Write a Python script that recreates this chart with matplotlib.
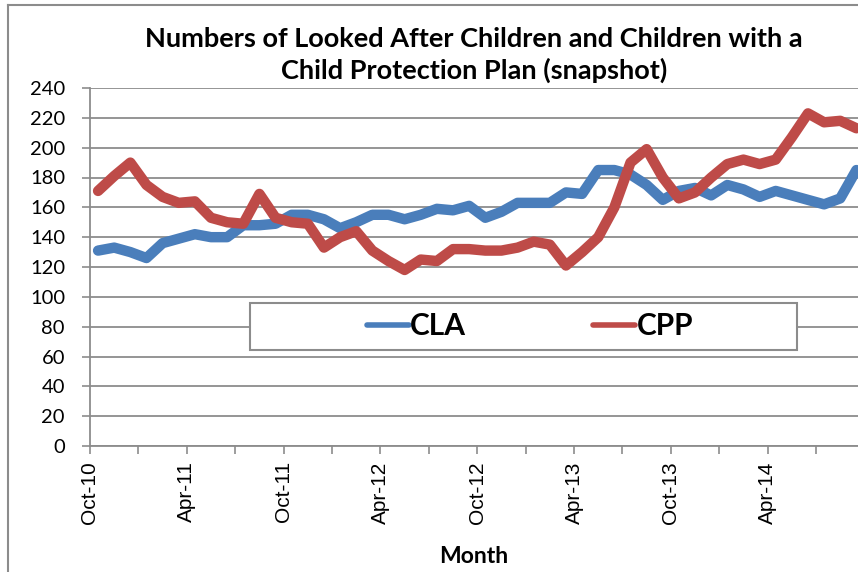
import numpy as np
import pandas as pd
import matplotlib
matplotlib.use('Agg')
import matplotlib.pyplot as plt
from matplotlib.lines import Line2D
from matplotlib.patches import Rectangle

# Meses (oct-2010 a sep-2014)
months = pd.date_range('2010-10-01', periods=48, freq='MS').strftime('%b-%y').tolist()

# Children Looked After
cla = [131, 133, 130, 126, 136, 139, 142, 140, 140, 148, 148, 149,
       155, 155, 152, 146, 150, 155, 155, 152, 155, 159, 158, 161,
       153, 157, 163, 163, 163, 170, 169, 185, 185, 182, 175, 165,
       171, 173, 168, 175, 172, 167, 171, 168, 165, 162, 166, 185]

# Child Protection Plan
cpp = [171, 181, 190, 175, 167, 163, 164, 153, 150, 149, 169, 153,
       150, 149, 133, 140, 144, 131, 124, 118, 125, 124, 132, 132,
       131, 131, 133, 137, 135, 121, 130, 140, 160, 190, 199, 180,
       166, 170, 180, 189, 192, 189, 192, 207, 223, 217, 218, 213]

title = 'Numbers of Looked After Children and Children with a\nChild Protection Plan (snapshot)'
cal = ['Lato', 'DejaVu Sans']
grey = '#8c8c8c'

fig = plt.figure(figsize=(8.58, 5.72), dpi=100)
ax = fig.add_axes([90/858, 1 - 446/572, 1 - 90/858, (446 - 88)/572])

x = np.arange(len(months))
ax.plot(x, cla, color='#4a7ebb', lw=7.5, solid_joinstyle='round', solid_capstyle='round',
        label='CLA', zorder=4)
ax.plot(x, cpp, color='#be4b48', lw=7.5, solid_joinstyle='round', solid_capstyle='round',
        label='CPP', zorder=4)

ax.set_ylim(0, 240)
ax.set_yticks(range(0, 241, 20))
ax.set_xlim(-0.5, 47.1)

# ticks en los limites entre meses, etiqueta cada 6 meses
tick_pos = [i - 0.5 for i in range(0, len(months), 3)]
tick_lab = [months[i] if i % 6 == 0 else '' for i in range(0, len(months), 3)]
ax.set_xticks(tick_pos)
ax.set_xticklabels(tick_lab, rotation=90, fontsize=15, family=['Liberation Sans', 'DejaVu Sans'])
for t in ax.get_yticklabels():
    t.set_fontsize(14.5)
    t.set_family(cal)

ax.tick_params(axis='both', color=grey, width=1.2, length=6, direction='out')
ax.tick_params(axis='x', pad=5)
ax.tick_params(axis='y', pad=12)
ax.grid(axis='y', color=grey, lw=1.3)
ax.set_axisbelow(True)
for s in ['top', 'right']:
    ax.spines[s].set_visible(False)
for s in ['left', 'bottom']:
    ax.spines[s].set_color(grey)
    ax.spines[s].set_linewidth(1.3)

ax.set_xlabel('Month', fontsize=16.5, fontweight='bold', family=cal, labelpad=16)

# caja de la leyenda
box = Rectangle(((250 - 90)/768, (446 - 350)/358), (797 - 250)/768, (350 - 303)/358,
                transform=ax.transAxes, facecolor='white', edgecolor=grey, lw=1.5, zorder=5)
ax.add_patch(box)
leg = ax.legend(loc='center', bbox_to_anchor=((530 - 90)/768, (446 - 326)/358), ncol=2,
                frameon=False, prop={'family': cal, 'weight': 'bold', 'size': 21.5},
                handlelength=1.4, handletextpad=0.05, columnspacing=4.25)
leg.set_zorder(6)
for l in leg.get_lines():
    l.set_linewidth(4)

fig.text(474/858, 1 - 55/572, title, ha='center', va='center', fontsize=19.5,
         fontweight='bold', family=cal, linespacing=1.3)

# borde exterior del grafico
fig.add_artist(Line2D([8/858, 8/858], [0, 1 - 5/572], color=grey, lw=1.5))
fig.add_artist(Line2D([8/858, 1], [1 - 5/572, 1 - 5/572], color=grey, lw=1.5))

fig.savefig('out.png', dpi=100)
